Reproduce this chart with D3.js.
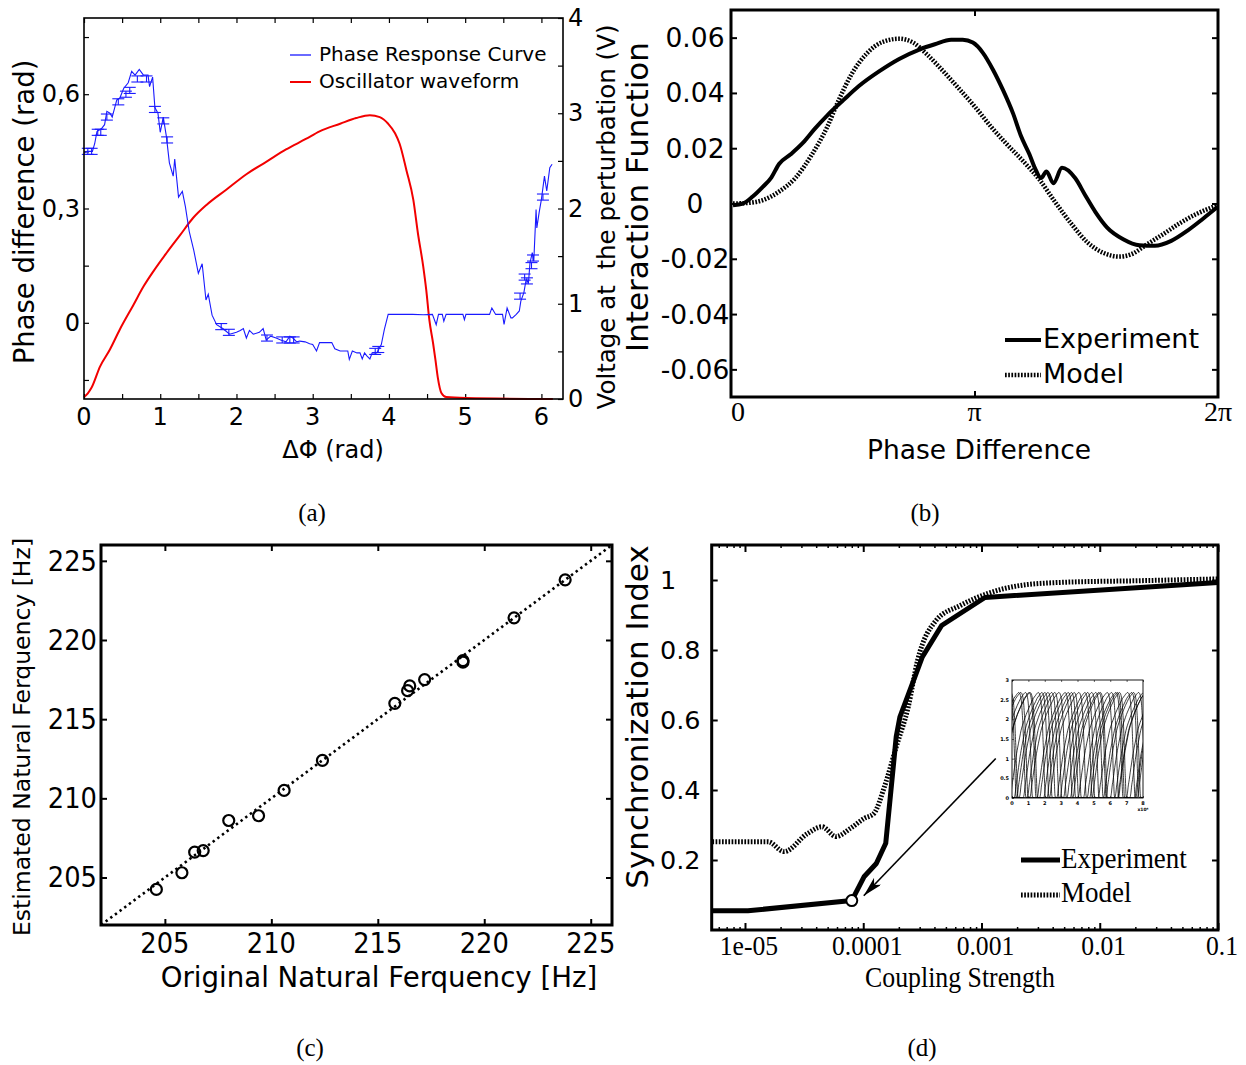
<!DOCTYPE html>
<html><head><meta charset="utf-8">
<script src="https://cdn.jsdelivr.net/npm/d3@7"></script>
<style>body{margin:0;background:#fff} svg{display:block}</style>
</head><body>
<svg id="fig" width="1246" height="1065"></svg>
<script>
// ---------------- DATA ----------------
// (a) Phase response curve (rad) vs ΔΦ (rad)
const prcX = [0.00,0.04,0.11,0.14,0.17,0.23,0.27,0.30,0.34,0.37,0.43,0.47,0.52,0.58,0.625,0.67,0.725,0.78,0.84,0.86,0.90,0.93,0.97,1.00,1.04,1.08,1.12,1.17,1.19,1.24,1.29,1.33,1.38,1.44,1.50,1.55,1.60,1.63,1.68,1.74,1.82,1.91,2.00,2.05,2.09,2.13,2.17,2.22,2.30,2.35,2.39,2.45,2.52,2.58,2.65,2.70,2.74,2.79,2.83,2.90,2.96,3.00,3.05,3.09,3.18,3.25,3.29,3.36,3.42,3.46,3.48,3.52,3.58,3.62,3.65,3.68,3.71,3.75,3.78,3.84,3.90,3.94,3.99,4.05,4.14,4.31,4.45,4.57,4.62,4.65,4.70,4.72,4.75,4.79,4.90,4.97,4.99,5.01,5.15,5.32,5.35,5.40,5.49,5.51,5.55,5.60,5.62,5.67,5.71,5.73,5.77,5.80,5.83,5.85,5.88,5.90,5.93,5.94,5.97,6.00,6.04,6.07,6.11,6.14];
const prcY = [0.445,0.45,0.45,0.47,0.502,0.51,0.52,0.555,0.55,0.54,0.585,0.59,0.615,0.63,0.66,0.65,0.665,0.65,0.65,0.62,0.645,0.565,0.55,0.50,0.54,0.49,0.42,0.385,0.43,0.33,0.345,0.305,0.24,0.19,0.13,0.155,0.06,0.075,0.02,-0.005,-0.015,-0.03,-0.025,-0.02,-0.015,-0.04,-0.02,-0.03,-0.025,-0.015,-0.045,-0.035,-0.04,-0.045,-0.05,-0.035,-0.04,-0.05,-0.048,-0.05,-0.055,-0.057,-0.074,-0.052,-0.052,-0.052,-0.068,-0.074,-0.074,-0.074,-0.096,-0.074,-0.079,-0.079,-0.095,-0.079,-0.087,-0.095,-0.079,-0.079,-0.057,-0.0175,0.022,0.022,0.022,0.022,0.021,0.022,-0.005,0.022,0.022,0.004,0.022,0.022,0.022,0.022,0.008,0.022,0.022,0.022,0.039,0.022,0.022,-0.004,0.039,0.013,0.013,0.022,0.031,0.057,0.079,0.114,0.105,0.157,0.184,0.162,0.297,0.249,0.289,0.324,0.385,0.346,0.407,0.416];
const prcErrX = [0.05,0.10,0.18,0.22,0.30,0.45,0.55,0.60,0.70,0.82,0.93,1.04,1.09,1.80,1.90,2.40,2.60,2.70,2.75,3.82,3.86,5.72,5.78,5.81,5.87,5.89,6.02];
const prcErrY = [0.45,0.45,0.50,0.50,0.54,0.58,0.60,0.61,0.64,0.64,0.56,0.53,0.48,-0.01,-0.025,-0.04,-0.045,-0.045,-0.045,-0.075,-0.07,0.07,0.12,0.11,0.15,0.17,0.33];
// (a) Oscillator waveform (V) vs phase (rad)
const waveX = [0.00,0.05,0.10,0.21,0.34,0.47,0.65,0.78,0.91,1.08,1.26,1.43,1.61,1.87,2.13,2.39,2.65,2.91,3.09,3.36,3.57,3.75,3.88,3.99,4.08,4.14,4.23,4.32,4.38,4.45,4.49,4.53,4.58,4.61,4.64,4.69,4.75,5.01,6.15];
const waveV = [0.02,0.06,0.12,0.34,0.52,0.73,0.99,1.18,1.34,1.53,1.72,1.90,2.04,2.20,2.36,2.49,2.62,2.73,2.81,2.89,2.95,2.98,2.96,2.89,2.79,2.68,2.40,2.09,1.74,1.39,1.14,0.83,0.58,0.41,0.23,0.06,0.02,0.01,0.00];
const aXTicks = [0,1,2,3,4,5,6];
const aYTickVals = [0,0.3,0.6];
const aYTickText = ['0','0,3','0,6'];
const aRTicks = [0,1,2,3,4];

// (b) Interaction function
const expBX = [0.026,0.155,0.28,0.41,0.52,0.62,0.77,0.93,1.08,1.24,1.45,1.65,1.91,2.17,2.43,2.63,2.84,2.99,3.12,3.25,3.38,3.51,3.64,3.74,3.85,3.92,4.00,4.07,4.16,4.27,4.44,4.57,4.70,4.85,5.06,5.27,5.47,5.68,5.89,6.09,6.28];
const expBY = [-0.0006,0,0.0025,0.006,0.0094,0.0143,0.0178,0.022,0.027,0.0318,0.0374,0.0425,0.0478,0.0523,0.0557,0.0576,0.0592,0.0592,0.0582,0.0545,0.0484,0.041,0.0325,0.0245,0.0178,0.0129,0.0092,0.0116,0.0073,0.0129,0.0092,0.003,-0.003,-0.0086,-0.0129,-0.0151,-0.0153,-0.0135,-0.0098,-0.0055,-0.0012];
const modBX = [0.026,0.21,0.41,0.62,0.83,1.03,1.24,1.39,1.55,1.76,1.96,2.17,2.35,2.53,2.74,2.94,3.15,3.36,3.56,3.77,3.98,4.18,4.39,4.60,4.80,5.01,5.16,5.37,5.58,5.78,5.99,6.28];
const modBY = [0,0.0002,0.0012,0.0043,0.0092,0.0171,0.0276,0.0374,0.0465,0.0545,0.0585,0.0596,0.0582,0.0539,0.0478,0.0416,0.0349,0.0276,0.0214,0.0153,0.0086,0.0006,-0.0073,-0.0141,-0.0178,-0.0192,-0.0184,-0.0147,-0.011,-0.0073,-0.004,-0.0006];
const bYTickVals = [-0.06,-0.04,-0.02,0,0.02,0.04,0.06];
const bYTickText = ['-0.06','-0.04','-0.02','0','0.02','0.04','0.06'];
const bXTickVals = [0, Math.PI, 2*Math.PI];
const bXTickText = ['0','π','2π'];

// (c) Natural frequency estimation
const origFreq = [204.6,205.8,206.4,206.8,208.0,209.4,210.6,212.4,215.8,216.4,216.5,217.2,219.0,219.0,221.4,223.8];
const estFreq  = [204.25,205.3,206.6,206.7,208.6,208.9,210.5,212.4,216.0,216.8,217.1,217.5,218.6,218.7,221.4,223.8];
const diagX = [202,226];
const diagY = [202,226];
const cTicks = [205,210,215,220,225];

// (d) Synchronization index vs coupling strength
const expDX = [5.3e-6,1.06e-5,8.0e-5,1.02e-4,1.29e-4,1.55e-4,1.9e-4,2.04e-4,3.16e-4,4.6e-4,1.07e-3,0.1];
const expDY = [0.055,0.055,0.084,0.153,0.19,0.248,0.552,0.608,0.78,0.87,0.95,0.993];
const modDX = [5.3e-6,1.57e-5,2.14e-5,3.39e-5,4.47e-5,5.89e-5,7.76e-5,1.02e-4,1.23e-4,1.51e-4,1.9e-4,2.4e-4,2.88e-4,4.12e-4,6.6e-4,1.14e-3,2.09e-3,4.57e-3,2.19e-2,0.1];
const modDY = [0.252,0.252,0.224,0.276,0.295,0.267,0.29,0.319,0.333,0.409,0.523,0.637,0.77,0.884,0.927,0.962,0.984,0.993,0.998,1.003];
const markX = [8.0e-5], markY = [0.084];
const arrowX = [1.32e-3, 1.01e-4], arrowY = [0.49, 0.098];
const dYTickVals = [0.2,0.4,0.6,0.8,1];
const dYTickText = ['0.2','0.4','0.6','0.8','1'];
const dXTickVals = [1e-5,1e-4,1e-3,1e-2,1e-1];
const dXTickText = ['1e-05','0.0001','0.001','0.01','0.1'];
// inset: oscillator traces (offset & period in inset x-units)
const insetOffsets = [0.15,0.30,0.45,0.95,1.10,1.55,1.70,2.15,2.30,2.75,0.70,1.95];
const insetPeriods = [2.80,2.86,2.92,2.78,2.95,2.83,2.90,2.76,2.98,2.85,2.88,2.81];
const insetYTicks = [0,0.5,1,1.5,2,2.5,3];
const insetXTicks = [0,1,2,3,4,5,6,7,8];

// ---------------- DRAW ----------------
const svg = d3.select('#fig');
svg.append('rect').attr('width',1246).attr('height',1065).attr('fill','#fff');
const SANS = "'DejaVu Sans', 'Noto Sans', sans-serif";
const SERIF = "'Liberation Serif', 'DejaVu Serif', serif";

function label(g, x, y, s, o = {}) {
  return g.append('text')
    .attr('transform', `translate(${x},${y}) rotate(${o.rot||0}) scale(${o.sx||1},1)`)
    .attr('text-anchor', o.anchor || 'middle')
    .attr('dominant-baseline', 'central')
    .style('font-family', o.family || SANS)
    .style('font-size', (o.size || 24) + 'px')
    .style('font-weight', o.weight || 'normal')
    .style('white-space', 'pre')
    .attr('fill', '#000')
    .text(s);
}
function ticks(g, axisFn, scale, vals, size, tr, w = 1.2) {
  g.append('g').attr('transform', tr)
    .call(axisFn(scale).tickValues(vals).tickSize(size).tickFormat(''))
    .call(s => s.select('.domain').remove())
    .call(s => s.selectAll('line').attr('stroke', '#000').attr('stroke-width', w));
}
function tickLabels(g, vals, texts, pos, o = {}) {
  g.append('g').selectAll('text').data(vals).join('text')
    .attr('transform', (d, i) => { const p = pos(d, i); return `translate(${p[0]},${p[1]}) scale(${o.sx||1},1)`; })
    .attr('text-anchor', (d, i) => Array.isArray(o.anchor) ? o.anchor[i] : (o.anchor || 'middle'))
    .attr('dominant-baseline', 'central')
    .style('font-family', o.family || SANS)
    .style('font-size', (o.size || 24) + 'px')
    .style('font-weight', o.weight || 'normal')
    .attr('fill', '#000')
    .text((d, i) => texts[i]);
}
function frame(g, F, w) {
  g.append('rect').attr('x', F.l).attr('y', F.t).attr('width', F.r - F.l).attr('height', F.b - F.t)
    .attr('fill', 'none').attr('stroke', '#000').attr('stroke-width', w);
}

// ===== (a) =====
{
  const A = {l:84, r:563, t:18, b:399};
  const g = svg.append('g');
  const x = d3.scaleLinear().domain([0, 2*Math.PI]).range([A.l, A.r]);
  const yL = d3.scaleLinear().domain([-0.2, 0.8]).range([A.b, A.t]);
  const yR = d3.scaleLinear().domain([0, 4]).range([A.b, A.t]);
  const xt = d3.range(0, 6.01, 0.5);
  ticks(g, d3.axisBottom, x, xt, -5, `translate(0,${A.b})`);
  ticks(g, d3.axisTop, x, xt, -5, `translate(0,${A.t})`);
  ticks(g, d3.axisLeft, yL, [-0.15,0,0.15,0.3,0.45,0.6,0.75], -5, `translate(${A.l},0)`);
  ticks(g, d3.axisRight, yR, d3.range(0, 4.01, 0.5), -5, `translate(${A.r},0)`);

  const lineR = d3.line().x((d, i) => x(waveX[i])).y(d => yR(d)).curve(d3.curveMonotoneX);
  g.append('path').attr('d', lineR(waveV)).attr('fill','none').attr('stroke','#f20000').attr('stroke-width',2);
  const lineB = d3.line().x((d, i) => x(prcX[i])).y(d => yL(d));
  g.append('path').attr('d', lineB(prcY)).attr('fill','none').attr('stroke','#1a1aff').attr('stroke-width',1.1);
  const eb = g.append('g').attr('stroke','#1a1aff').attr('stroke-width',1.1);
  prcErrX.forEach((ex, i) => {
    const cx = x(ex), y1 = yL(prcErrY[i] + 0.008), y2 = yL(prcErrY[i] - 0.008);
    eb.append('line').attr('x1',cx).attr('x2',cx).attr('y1',y1).attr('y2',y2);
    eb.append('line').attr('x1',cx-6).attr('x2',cx+6).attr('y1',y1).attr('y2',y1);
    eb.append('line').attr('x1',cx-6).attr('x2',cx+6).attr('y1',y2).attr('y2',y2);
  });
  frame(g, A, 1.6);

  tickLabels(g, aXTicks, aXTicks.map(String), d => [x(d), 417], {size: 24});
  tickLabels(g, aYTickVals, aYTickText, d => [80, yL(d)], {size: 24, anchor: 'end'});
  tickLabels(g, aRTicks, aRTicks.map(String), d => [568, yR(d)], {size: 24, anchor: 'start'});
  label(g, 333, 450, 'ΔΦ (rad)', {size: 24});
  label(g, 24, 212, 'Phase difference (rad)', {size: 27.5, rot: -90});
  label(g, 606, 217, 'Voltage at  the perturbation (V)', {size: 24.5, rot: -90});
  g.append('line').attr('x1',290).attr('x2',311).attr('y1',55).attr('y2',55).attr('stroke','#1a1aff').attr('stroke-width',1.3);
  g.append('line').attr('x1',290).attr('x2',311).attr('y1',82).attr('y2',82).attr('stroke','#f20000').attr('stroke-width',2);
  label(g, 319, 54, 'Phase Response Curve', {size: 20, anchor: 'start'});
  label(g, 319, 81, 'Oscillator waveform', {size: 20, anchor: 'start'});
  label(g, 312, 512, '(a)', {size: 25, family: SERIF});
}

// ===== (b) =====
{
  const B = {l:731, r:1218, t:10, b:397};
  const g = svg.append('g');
  const x = d3.scaleLinear().domain([0, 2*Math.PI]).range([B.l, B.r]);
  const y = d3.scaleLinear().domain([-0.07, 0.07]).range([B.b, B.t]);
  ticks(g, d3.axisLeft, y, bYTickVals, -6, `translate(${B.l},0)`, 2);
  ticks(g, d3.axisRight, y, bYTickVals, -6, `translate(${B.r},0)`, 2);
  ticks(g, d3.axisBottom, x, [Math.PI], -6, `translate(0,${B.b})`, 2);
  ticks(g, d3.axisTop, x, [Math.PI], -6, `translate(0,${B.t})`, 2);
  const lm = d3.line().x((d, i) => x(modBX[i])).y(d => y(d)).curve(d3.curveMonotoneX);
  g.append('path').attr('d', lm(modBY)).attr('fill','none').attr('stroke','#000').attr('stroke-width',4.5).attr('stroke-dasharray','1.7,1.5');
  const le = d3.line().x((d, i) => x(expBX[i])).y(d => y(d)).curve(d3.curveMonotoneX);
  g.append('path').attr('d', le(expBY)).attr('fill','none').attr('stroke','#000').attr('stroke-width',4).attr('stroke-linejoin','round');
  frame(g, B, 3);
  tickLabels(g, bYTickVals, bYTickText, d => [695, y(d)], {size: 26.5});
  tickLabels(g, bXTickVals, bXTickText, d => [x(d), 411], {size: 28, family: SERIF, anchor: ['start','middle','middle']});
  label(g, 979, 449, 'Phase Difference', {size: 26.5});
  label(g, 637, 197, 'Interaction Function', {size: 31, rot: -90});
  g.append('line').attr('x1',1005).attr('x2',1041).attr('y1',340).attr('y2',340).attr('stroke','#000').attr('stroke-width',4);
  g.append('line').attr('x1',1005).attr('x2',1041).attr('y1',375).attr('y2',375).attr('stroke','#000').attr('stroke-width',4.5).attr('stroke-dasharray','1.7,1.5');
  label(g, 1043, 338, 'Experiment', {size: 27, anchor: 'start'});
  label(g, 1043, 373, 'Model', {size: 27, anchor: 'start'});
  label(g, 925, 512, '(b)', {size: 25, family: SERIF});
}

// ===== (c) =====
{
  const C = {l:101, r:612, t:545, b:925};
  const g = svg.append('g');
  const x = d3.scaleLinear().domain([202, 226]).range([C.l, C.r]);
  const y = d3.scaleLinear().domain([202, 226]).range([C.b, C.t]);
  ticks(g, d3.axisBottom, x, cTicks, -6, `translate(0,${C.b})`, 2);
  ticks(g, d3.axisTop, x, cTicks, -6, `translate(0,${C.t})`, 2);
  ticks(g, d3.axisLeft, y, cTicks, -6, `translate(${C.l},0)`, 2);
  ticks(g, d3.axisRight, y, cTicks, -6, `translate(${C.r},0)`, 2);
  const ld = d3.line().x((d, i) => x(diagX[i])).y(d => y(d));
  g.append('path').attr('d', ld(diagY)).attr('fill','none').attr('stroke','#000').attr('stroke-width',2.6).attr('stroke-dasharray','2.4,3.4');
  g.append('g').selectAll('circle').data(estFreq).join('circle')
    .attr('cx', (d, i) => x(origFreq[i])).attr('cy', d => y(d)).attr('r', 5.5)
    .attr('fill','none').attr('stroke','#000').attr('stroke-width',2.2);
  frame(g, C, 3);
  tickLabels(g, cTicks, cTicks.map(String), d => [x(d), 943], {size: 28, sx: 0.92});
  tickLabels(g, cTicks, cTicks.map(String), d => [97, y(d)], {size: 28, sx: 0.92, anchor: 'end'});
  label(g, 379, 977, 'Original Natural Ferquency [Hz]', {size: 28.5, sx: 0.97});
  label(g, 22, 737, 'Estimated Natural Ferquency [Hz]', {size: 23.5, rot: -90});
  label(g, 310, 1047, '(c)', {size: 25, family: SERIF});
}

// ===== (d) =====
{
  const D = {l:711.7, r:1218, t:545, b:930};
  const g = svg.append('g');
  const x = d3.scaleLog().domain([5.23e-6, 0.1]).range([D.l, D.r]);
  const y = d3.scaleLinear().domain([0, 1.1]).range([D.b, D.t]);
  const minor = [];
  [1e-6,1e-5,1e-4,1e-3,1e-2].forEach(dd => [2,3,4,5,6,7,8,9].forEach(m => { const v = dd*m; if (v > 5.3e-6 && v < 0.1) minor.push(v); }));
  ticks(g, d3.axisBottom, x, dXTickVals, -7, `translate(0,${D.b})`, 2);
  ticks(g, d3.axisTop, x, dXTickVals, -7, `translate(0,${D.t})`, 2);
  ticks(g, d3.axisBottom, x, minor, -3, `translate(0,${D.b})`, 1.5);
  ticks(g, d3.axisTop, x, minor, -3, `translate(0,${D.t})`, 1.5);
  ticks(g, d3.axisLeft, y, dYTickVals, -6, `translate(${D.l},0)`, 2);
  ticks(g, d3.axisRight, y, dYTickVals, -6, `translate(${D.r},0)`, 2);

  const lm = d3.line().x((d, i) => x(modDX[i])).y(d => y(d)).curve(d3.curveMonotoneX);
  g.append('path').attr('d', lm(modDY)).attr('fill','none').attr('stroke','#000').attr('stroke-width',5).attr('stroke-dasharray','1.7,1.5');
  const le = d3.line().x((d, i) => x(expDX[i])).y(d => y(d));
  g.append('path').attr('d', le(expDY)).attr('fill','none').attr('stroke','#000').attr('stroke-width',5).attr('stroke-linejoin','round');
  g.append('g').selectAll('circle').data(markY).join('circle')
    .attr('cx', (d, i) => x(markX[i])).attr('cy', d => y(d)).attr('r', 5.5)
    .attr('fill','#fff').attr('stroke','#000').attr('stroke-width',2);
  const defs = svg.append('defs');
  defs.append('marker').attr('id','arr').attr('viewBox','0 0 20 10').attr('refX',20).attr('refY',5)
    .attr('markerWidth',20).attr('markerHeight',10).attr('markerUnits','userSpaceOnUse').attr('orient','auto')
    .append('path').attr('d','M0,0 L20,5 L0,10 L5,5 Z').attr('fill','#000');
  const la = d3.line().x((d, i) => x(arrowX[i])).y(d => y(d));
  g.append('path').attr('d', la(arrowY)).attr('fill','none').attr('stroke','#000').attr('stroke-width',1.6).attr('marker-end','url(#arr)');
  frame(g, D, 3);
  tickLabels(g, dYTickVals, dYTickText, d => [660, y(d)], {size: 25.5, anchor: 'start'});
  tickLabels(g, dXTickVals, dXTickText, d => [x(d) + 4, 946], {size: 27, family: SERIF, sx: 0.95});
  label(g, 960, 977, 'Coupling Strength', {size: 30, family: SERIF, sx: 0.86});
  label(g, 637, 717, 'Synchronization Index', {size: 31, rot: -90});
  g.append('line').attr('x1',1021).attr('x2',1060).attr('y1',860).attr('y2',860).attr('stroke','#000').attr('stroke-width',5);
  g.append('line').attr('x1',1021).attr('x2',1060).attr('y1',895).attr('y2',895).attr('stroke','#000').attr('stroke-width',5).attr('stroke-dasharray','1.7,1.5');
  label(g, 1061, 858, 'Experiment', {size: 29, family: SERIF, sx: 0.93, anchor: 'start'});
  label(g, 1061, 892, 'Model', {size: 29, family: SERIF, sx: 0.93, anchor: 'start'});
  label(g, 922, 1047, '(d)', {size: 25, family: SERIF});

  // inset
  const I = {l:1012, r:1143, t:680, b:798};
  const gi = g.append('g');
  gi.append('rect').attr('x',I.l).attr('y',I.t).attr('width',I.r-I.l).attr('height',I.b-I.t).attr('fill','#fff');
  const ix = d3.scaleLinear().domain([0, 8]).range([I.l, I.r]);
  const iy = d3.scaleLinear().domain([0, 3]).range([I.b, I.t]);
  defs.append('clipPath').attr('id','iclip').append('rect').attr('x',I.l).attr('y',I.t).attr('width',I.r-I.l).attr('height',I.b-I.t);
  const traces = gi.append('g').attr('clip-path','url(#iclip)');
  insetOffsets.forEach((o, k) => {
    const P = insetPeriods[k];
    const pts = [];
    for (let c = -1; c < 4; c++) waveX.forEach((ph, j) => pts.push([o + (c + ph/(2*Math.PI)) * P, waveV[j] * 0.9]));
    traces.append('path').attr('d', d3.line().x(d => ix(d[0])).y(d => iy(d[1])).curve(d3.curveMonotoneX)(pts))
      .attr('fill','none').attr('stroke','#000').attr('stroke-width',0.75);
  });
  gi.append('rect').attr('x',I.l).attr('y',I.t).attr('width',I.r-I.l).attr('height',I.b-I.t).attr('fill','none').attr('stroke','#000').attr('stroke-width',0.9);
  ticks(gi, d3.axisBottom, ix, insetXTicks, -2, `translate(0,${I.b})`, 0.6);
  ticks(gi, d3.axisTop, ix, insetXTicks, -2, `translate(0,${I.t})`, 0.6);
  ticks(gi, d3.axisLeft, iy, insetYTicks, -2, `translate(${I.l},0)`, 0.6);
  tickLabels(gi, insetYTicks, insetYTicks.map(String), d => [I.l - 3, iy(d)], {size: 5, anchor: 'end', weight: 'bold'});
  tickLabels(gi, insetXTicks, insetXTicks.map(String), d => [ix(d), I.b + 5], {size: 5, weight: 'bold'});
  label(gi, I.r, I.b + 11, 'x10⁴', {size: 4.5, weight: 'bold'});
}
</script>
</body></html>
